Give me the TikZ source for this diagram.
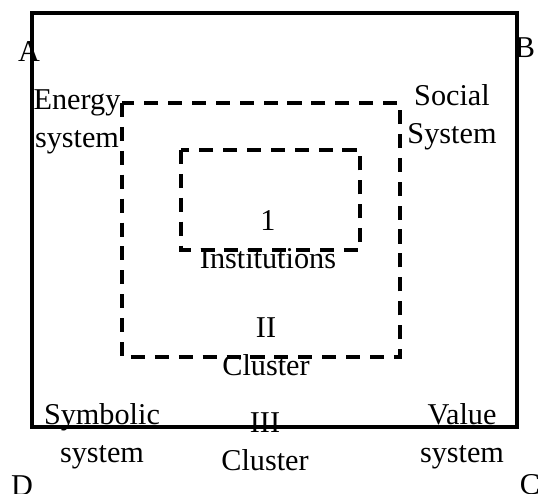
\documentclass[tikz,border=0pt]{standalone}
\usepackage{fontspec}
\setmainfont{Liberation Serif}
\usepackage{tikz}
\tikzset{
  lbl/.style={font=\fontsize{21.5}{27}\selectfont, inner sep=0pt, align=center, anchor=base},
  outerbox/.style={line width=2.5pt},
  clusterbox/.style={line width=2.3pt, dash pattern=on 10pt off 7pt},
}
\begin{document}
\begin{tikzpicture}[x=0.025cm, y=-0.025cm]
  \useasboundingbox (0,0) rectangle (538,493);
  \coordinate (A) at (32,13);
  \coordinate (C) at (517,427);
  \coordinate (IIa) at (122,103);
  \coordinate (IIc) at (400,357);
  \coordinate (Ia) at (181,150);
  \coordinate (Ic) at (360,250);
  % cluster III
  \draw[outerbox] (A) rectangle (C);
  % cluster II
  \draw[clusterbox] (IIa) rectangle (IIc);
  % institutions
  \draw[clusterbox] (Ia) rectangle (Ic);
  % corners
  \node[lbl] (la) at (29,61) {A};
  \node[lbl] (lb) at (525,57) {B};
  \node[lbl] (lc) at (530,494) {C};
  \node[lbl] (ld) at (22,495) {D};
  % systems (base = last line)
  \node[lbl] (energy) at (77,147) {Energy\\system};
  \node[lbl] (social) at (452,143) {Social\\System};
  \node[lbl] (symbolic) at (102,462) {Symbolic\\system};
  \node[lbl] (value) at (462,462) {Value\\system};
  % clusters
  \node[lbl] (inst) at (268,268) {1\\Institutions};
  \node[lbl] (clusterII) at (266,375) {II\\Cluster};
  \node[lbl] (clusterIII) at (265,470) {III\\Cluster};
\end{tikzpicture}
\end{document}
